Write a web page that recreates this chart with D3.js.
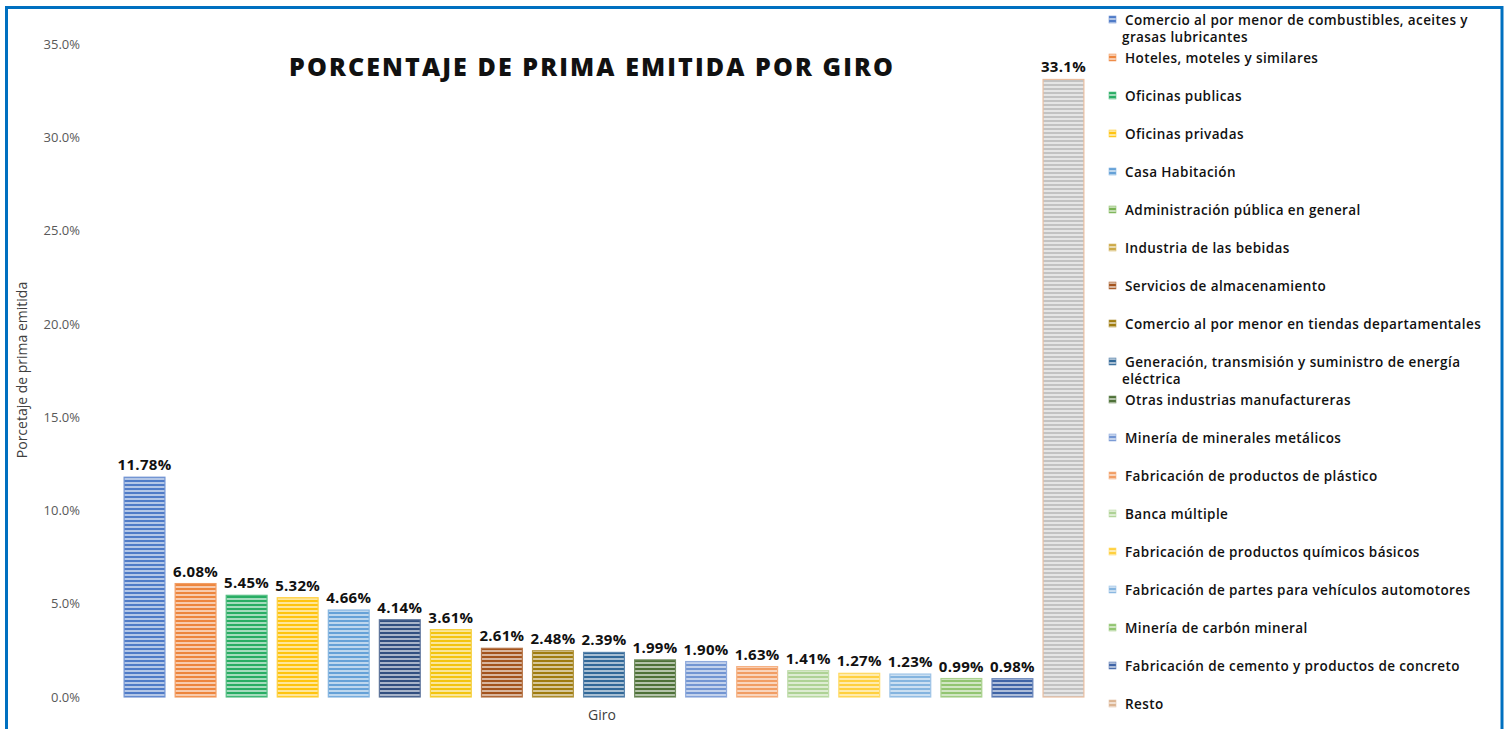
<!DOCTYPE html>
<html>
<head>
<meta charset="utf-8">
<script src="https://cdn.jsdelivr.net/npm/d3@7"></script>
<style>
  html, body { margin: 0; padding: 0; background: #fff; }
  svg { display: block; }
</style>
</head>
<body>
<script>
// data
var giros = [
  "Comercio al por menor de combustibles, aceites y grasas lubricantes",
  "Hoteles, moteles y similares",
  "Oficinas publicas",
  "Oficinas privadas",
  "Casa Habitación",
  "Administración pública en general",
  "Industria de las bebidas",
  "Servicios de almacenamiento",
  "Comercio al por menor en tiendas departamentales",
  "Generación, transmisión y suministro de energía eléctrica",
  "Otras industrias manufactureras",
  "Minería de minerales metálicos",
  "Fabricación de productos de plástico",
  "Banca múltiple",
  "Fabricación de productos químicos básicos",
  "Fabricación de partes para vehículos automotores",
  "Minería de carbón mineral",
  "Fabricación de cemento y productos de concreto",
  "Resto"
];
var porcentajes = [11.78, 6.08, 5.45, 5.32, 4.66, 4.14, 3.61, 2.61, 2.48, 2.39, 1.99, 1.90, 1.63, 1.41, 1.27, 1.23, 0.99, 0.98, 33.1];
var etiquetas = ["11.78%", "6.08%", "5.45%", "5.32%", "4.66%", "4.14%", "3.61%", "2.61%", "2.48%", "2.39%", "1.99%", "1.90%", "1.63%", "1.41%", "1.27%", "1.23%", "0.99%", "0.98%", "33.1%"];
var colores = ["#4472C4", "#ED7D31", "#1BA85A", "#FFC000", "#5B9BD5", "#264478", "#F2C000", "#9E480E", "#997300",
  "#255E91", "#43682B", "#698ED0", "#F1975A", "#A9D08E", "#FFCD33", "#7CAFDD", "#8CC168", "#335AA1", "#BFBFBF"];
var bordes = colores.slice(0, 18).concat(["#E2A880"]);
// the legend swatches in the original don't all match the bars
var coloresLeyenda = ["#4472C4", "#ED7D31", "#1BA85A", "#FFC000", "#5B9BD5", "#70AD47", "#C9A43C", "#9E480E", "#997300",
  "#255E91", "#43682B", "#698ED0", "#F1975A", "#A9D08E", "#FFCD33", "#7CAFDD", "#8CC168", "#335AA1", "#D9B08C"];
var yTicks = [0, 5, 10, 15, 20, 25, 30, 35];

var W = 1509, H = 729;
var svg = d3.select("body").append("svg").attr("width", W).attr("height", H);

// striped fills like excel pattern
var defs = svg.append("defs");
function rayas(id, c) {
  var p = defs.append("pattern").attr("id", id)
    .attr("patternUnits", "userSpaceOnUse").attr("width", 8).attr("height", 4);
  p.append("rect").attr("width", 8).attr("height", 4).attr("fill", d3.interpolateRgb(c, "#fff")(0.6));
  p.append("rect").attr("y", 0).attr("width", 8).attr("height", 2).attr("fill", c).attr("opacity", 0.9);
}
colores.forEach(function(c, i) { rayas("rayas" + i, c); });
coloresLeyenda.forEach(function(c, i) { rayas("leg" + i, c); });

var font = "'Open Sans', 'DejaVu Sans', sans-serif";

var y = d3.scaleLinear().domain([0, 35]).range([697, 44]);
var x = d3.scaleBand().domain(d3.range(giros.length)).range([119, 1089]).paddingInner(0.2).paddingOuter(0.1);

// y axis (labels only)
var yAxis = d3.axisLeft(y).tickValues(yTicks).tickSize(0).tickPadding(0)
  .tickFormat(function(d) { return d.toFixed(1) + "%"; });
var ga = svg.append("g").attr("transform", "translate(80,0)").call(yAxis);
ga.select(".domain").remove();
ga.selectAll("text").attr("font-family", font).attr("font-size", 13).attr("fill", "#595959");

svg.append("text").attr("transform", "translate(27,370) rotate(-90)")
  .attr("text-anchor", "middle").attr("font-family", font).attr("font-size", 14).attr("fill", "#404040")
  .text("Porcetaje de prima emitida");

svg.append("text").attr("x", 602).attr("y", 720).attr("text-anchor", "middle")
  .attr("font-family", font).attr("font-size", 14).attr("fill", "#404040").text("Giro");

// bars
svg.append("g").selectAll("rect").data(porcentajes).join("rect")
  .attr("x", function(d, i) { return x(i); })
  .attr("y", function(d) { return y(d); })
  .attr("width", x.bandwidth())
  .attr("height", function(d) { return y(0) - y(d); })
  .attr("fill", function(d, i) { return "url(#rayas" + i + ")"; })
  .attr("stroke", function(d, i) { return d3.interpolateRgb(bordes[i], "#fff")(0.25); })
  .attr("stroke-width", 1.2);

svg.append("g").selectAll("text").data(porcentajes).join("text")
  .attr("x", function(d, i) { return x(i) + x.bandwidth() / 2; })
  .attr("y", function(d) { return y(d) - 7; })
  .attr("text-anchor", "middle").attr("font-family", font).attr("font-weight", 700)
  .attr("font-size", 15).attr("letter-spacing", 0.3).attr("fill", "#111")
  .text(function(d, i) { return etiquetas[i]; });

// title
svg.append("text").attr("x", 592).attr("y", 76).attr("text-anchor", "middle")
  .attr("font-family", font).attr("font-weight", 800).attr("font-size", 25)
  .attr("letter-spacing", 2.1).attr("fill", "#111")
  .text("PORCENTAJE DE PRIMA EMITIDA POR GIRO");

// legend
var leg = svg.append("g");
giros.forEach(function(g, i) {
  var cy = 20 + 38 * i;
  leg.append("rect").attr("x", 1109).attr("y", cy - 4).attr("width", 7).attr("height", 7)
    .attr("fill", "url(#leg" + i + ")").attr("stroke", d3.interpolateRgb(coloresLeyenda[i], "#fff")(0.25)).attr("stroke-width", 0.6);
  var t = leg.append("text").attr("x", 1125).attr("y", cy + 4.5)
    .attr("font-family", font).attr("font-weight", 600).attr("font-size", 13.5)
    .attr("letter-spacing", 0.4).attr("fill", "#111");
  // wrap long labels
  var words = g.split(" "), line = [], tspan = t.append("tspan").attr("x", 1125);
  words.forEach(function(w) {
    line.push(w);
    tspan.text(line.join(" "));
    if (tspan.node().getComputedTextLength() > 368 && line.length > 1) {
      line.pop();
      tspan.text(line.join(" "));
      line = [w];
      tspan = t.append("tspan").attr("x", 1122).attr("dy", 17).text(w);
    }
  });
});

// frame
svg.append("rect").attr("x", 6.5).attr("y", 7.5).attr("width", 1495.5).attr("height", 740)
  .attr("fill", "none").attr("stroke", "#0070C0").attr("stroke-width", 3);
</script>
</body>
</html>
